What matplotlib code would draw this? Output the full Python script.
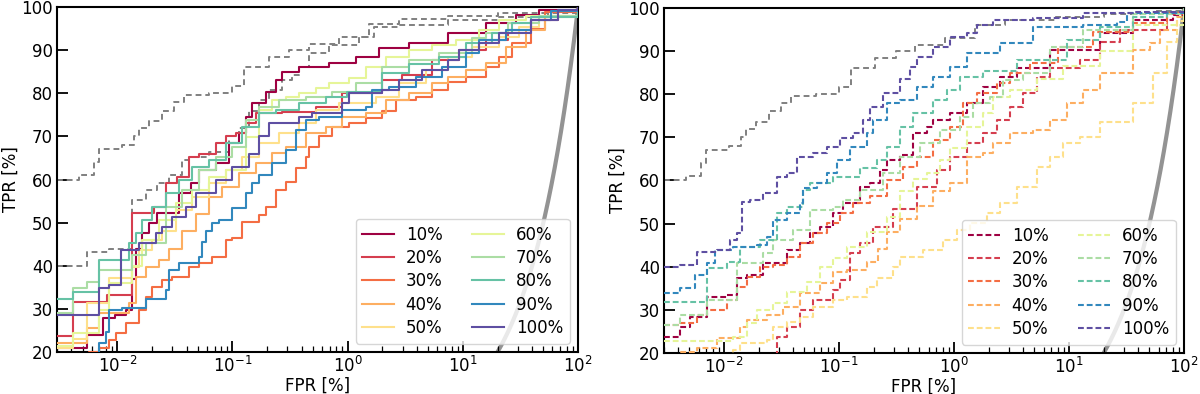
import numpy as np
import matplotlib
matplotlib.use("Agg")
import matplotlib.pyplot as plt

# ---------------- data ----------------
labels = ["10%", "20%", "30%", "40%", "50%", "60%", "70%", "80%", "90%", "100%"]
colors = ['#9e0142', '#d53e4f', '#f46d43', '#fdae61', '#fee08b',
          '#e6f598', '#abdda4', '#66c2a5', '#3288bd', '#5e4fa2']

# grey reference curves
G1_fpr = [0.003, 0.0047, 0.0063, 0.007, 0.011, 0.014, 0.0155, 0.019, 0.0245, 0.031, 0.038, 0.063,
          0.099, 0.126, 0.207, 0.31, 0.46, 0.84, 1.53, 2.8, 7.5, 20, 55, 100]
G1_tpr = [60, 61, 64, 67, 68, 70, 72, 73.5, 76, 78, 79.5, 80,
          81.6, 86, 88.5, 90, 91.5, 93, 96, 97.3, 98, 98.6, 99.3, 100]
G2_fpr = [0.003, 0.0055, 0.0085, 0.0135, 0.0135, 0.0178, 0.0222, 0.0282, 0.0366, 0.042, 0.063,
          0.0935, 0.114, 0.139, 0.17, 0.207, 0.269, 0.328, 0.378, 0.46, 0.69, 1.25, 1.69, 2.8,
          7.5, 20, 55, 100]
G2_tpr = [40, 43.3, 44, 47.8, 55.2, 57.6, 59.2, 61, 64.5, 65.2, 66.4,
          70, 72, 76, 78.4, 80.7, 83, 84.2, 86, 89.3, 91.2, 93, 95.4, 95.8,
          97, 97.6, 98.7, 100]

# left panel (solid)
L10_fpr = [0.003, 0.0055, 0.0075, 0.0095, 0.012, 0.0135, 0.0145, 0.0165, 0.0189, 0.0222, 0.0344,
           0.0437, 0.0513, 0.072, 0.0935, 0.114, 0.131, 0.148, 0.195, 0.239, 0.269, 0.378, 0.687,
           1.18, 1.86, 3.39, 7.5, 15.8, 28.7, 45.4, 100]
L10_tpr = [21, 24, 28, 28.6, 29.7, 37, 44, 47.6, 50, 52.2, 56.8,
           59.2, 62.2, 63.8, 68.4, 70.8, 74.5, 77.7, 80.3, 83, 85, 86, 87,
           88.4, 90.5, 91.6, 94, 96.2, 98.1, 99.3, 100]
L20_fpr = [0.003, 0.0041, 0.0082, 0.0135, 0.021, 0.0266, 0.0331, 0.042, 0.0513, 0.072, 0.088,
           0.107, 0.131, 0.16, 0.269, 0.53, 0.89, 1.98, 2.95, 5.37, 9.2, 15.8, 24.9, 39.4, 67.6, 100]
L20_tpr = [23.8, 31.7, 33.2, 52.2, 53.6, 59.2, 60.6, 65.2, 66, 68.4, 70,
           70.8, 73.1, 75.4, 75.6, 76.8, 80, 83, 84.3, 87.7, 90, 92.3, 94.7, 97.1, 99, 100]
L30_fpr = [0.003, 0.0057, 0.007, 0.0085, 0.0098, 0.012, 0.0155, 0.0178, 0.0201, 0.0245, 0.030,
           0.042, 0.0513, 0.0665, 0.088, 0.0993, 0.121, 0.17, 0.195, 0.239, 0.292, 0.356, 0.434,
           0.46, 0.562, 0.73, 1.02, 1.44, 1.98, 2.62, 3.9, 5.37, 7.5, 10.6, 15.8, 20.4, 26.5,
           39.4, 52, 100]
L30_tpr = [18, 20, 21, 22.8, 24.4, 26.7, 29.7, 32.8, 35.1, 36.7, 37.4,
           39.7, 40.6, 42, 46, 46.4, 50.1, 51.8, 53.6, 57.6, 59.5, 62.6, 65.3,
           67.5, 70, 72.2, 73, 74.2, 76, 78.4, 79.2, 80.8, 82.7, 83.8, 86.1, 88.5, 91.6,
           95, 98.9, 100]
L40_fpr = [0.003, 0.0055, 0.007, 0.0127, 0.0146, 0.0178, 0.0231, 0.0282, 0.0366, 0.0484, 0.063,
           0.081, 0.114, 0.16, 0.22, 0.292, 0.434, 0.647, 0.89, 1.44, 2.14, 3.39, 5.37, 7.5,
           10.6, 15.8, 23.5, 35, 52, 100]
L40_tpr = [22, 25.6, 29, 31.3, 37.4, 39.8, 41.3, 44, 48, 52, 56,
           58.3, 61.5, 63.8, 66.1, 67.6, 70.8, 72.2, 74.5, 75.4, 78.4, 80, 82.3, 83.8,
           85.4, 87, 90.8, 94.7, 98, 100]
L50_fpr = [0.003, 0.0041, 0.0055, 0.0085, 0.0135, 0.0155, 0.0201, 0.0245, 0.0324, 0.0447, 0.063,
           0.088, 0.121, 0.17, 0.253, 0.378, 0.53, 0.84, 1.75, 2.78, 4.76, 7.5, 11.9, 20.4,
           30.5, 45.4, 100]
L50_tpr = [21, 23, 31.3, 37.1, 39.8, 43.7, 46, 48, 52.9, 56, 59.2,
           62.2, 65.2, 68.4, 70.8, 73.1, 76.1, 77.7, 79.2, 82.3, 85.4, 88.4, 90.8, 93.1,
           95.4, 97.7, 100]
L60_fpr = [0.003, 0.0041, 0.007, 0.0085, 0.0135, 0.0165, 0.0231, 0.0324, 0.0447, 0.063, 0.088,
           0.131, 0.17, 0.22, 0.292, 0.378, 0.53, 0.687, 1.02, 1.44, 2.14, 3.39, 5.37, 8.67,
           13.7, 20.4, 35, 100]
L60_tpr = [21.5, 24.4, 29.7, 36, 40, 46, 50.6, 54.5, 57.6, 60.6, 62.2,
           69.9, 76.1, 78.4, 79.1, 80, 81.2, 82.4, 83.5, 86.1, 88.4, 90, 91.2, 92.3,
           94.7, 96.9, 98, 100]
L70_fpr = [0.003, 0.0041, 0.0055, 0.007, 0.0135, 0.0178, 0.0266, 0.0366, 0.0513, 0.072, 0.0993,
           0.131, 0.17, 0.253, 0.434, 0.73, 1.18, 1.98, 3.39, 6.2, 11.9, 15.8, 24.9, 45.4, 100]
L70_tpr = [29, 34.8, 36.2, 39, 42.5, 45.3, 53.6, 57.6, 62.2, 65.2, 67.6,
           73.8, 76.8, 78.4, 79.1, 80.3, 82.3, 86.1, 87.7, 89.3, 92.8, 93.9, 96.2, 98, 100]
L80_fpr = [0.003, 0.0041, 0.007, 0.0127, 0.0146, 0.0165, 0.0201, 0.0266, 0.0344, 0.0447, 0.063,
           0.088, 0.121, 0.17, 0.239, 0.378, 0.647, 0.98, 1.98, 3.39, 6.2, 10.6, 17.8, 26.5,
           39.4, 100]
L80_tpr = [32.3, 33.9, 41.3, 45.3, 47.6, 50.6, 53.6, 56.8, 59.9, 62.9, 64.5,
           68.4, 72.2, 75.4, 76.1, 77.7, 79.1, 80.3, 84.6, 86.9, 88.4, 91.6, 93.9, 96.2,
           97.7, 100]
L90_fpr = [0.003, 0.007, 0.008, 0.0085, 0.011, 0.0178, 0.0266, 0.0282, 0.0344, 0.0513, 0.0546,
           0.059, 0.0665, 0.0766, 0.0993, 0.131, 0.148, 0.17, 0.22, 0.292, 0.356, 0.434, 0.562,
           0.89, 1.44, 1.62, 2.28, 3.9, 6.55, 10.6, 13.7, 23.5, 39.4, 58.6, 100]
L90_tpr = [15, 22, 24.6, 29.7, 30.1, 32.4, 34.4, 39, 40.6, 42, 45.6,
           48, 50, 50.6, 53.4, 56.8, 59.2, 61, 63.8, 66.8, 71.5, 73.8, 74.5,
           76.1, 76.8, 80.8, 81.5, 83.8, 86.1, 89.3, 92.3, 94.7, 97, 99, 100]
L100_fpr = [0.003, 0.007, 0.0085, 0.0108, 0.0155, 0.0218, 0.0245, 0.030, 0.0396, 0.0484, 0.072,
            0.0993, 0.139, 0.17, 0.207, 0.378, 0.49, 0.89, 1.02, 1.98, 2.78, 4.4, 7.5, 9.2,
            13.7, 20.4, 39.4, 67.6, 100]
L100_tpr = [28.6, 34.8, 35.5, 43.7, 45.3, 47.6, 49, 51.4, 53.7, 56.8, 59.9,
            63, 66, 70, 73, 74.5, 75.4, 77.7, 80, 80.8, 83.1, 85.4, 87.7, 90,
            91.6, 93.9, 97, 99.3, 100]

# right panel (dashed)
R10_fpr = [0.003, 0.00414, 0.00506, 0.0071, 0.0106, 0.013, 0.0159, 0.0218, 0.0353, 0.0458, 0.056,
           0.0684, 0.0887, 0.108, 0.152, 0.186, 0.227, 0.261, 0.339, 0.44, 0.582, 0.656, 0.923,
           1.30, 1.79, 2.51, 3.53, 6.84, 18.6, 36, 80, 100]
R10_tpr = [23.7, 26.1, 28.4, 33, 33.4, 37.4, 38.1, 40.8, 43.9, 45.5, 47.8,
           49.2, 52.4, 54.7, 58.5, 59.4, 62.4, 64.7, 66, 71, 72.4, 74, 75.6,
           77.9, 81.7, 84, 86, 90.3, 94.2, 97.2, 98.4, 100]
R20_fpr = [0.003, 0.0267, 0.0289, 0.0353, 0.0458, 0.0594, 0.0887, 0.102, 0.125, 0.152, 0.198,
           0.295, 0.476, 0.712, 0.923, 1.30, 1.79, 2.37, 3.07, 3.98, 5.27, 6.84, 12.5, 18.6,
           27.7, 71, 100]
R20_tpr = [15, 19, 23.7, 26.1, 30, 32.3, 34.6, 37, 43.1, 45.5, 49.2,
           53.5, 58.5, 62.4, 65.5, 68.7, 71, 74, 77.1, 80.2, 84, 86, 88, 92,
           95, 98.5, 100]
R30_fpr = [0.003, 0.00414, 0.00582, 0.0071, 0.0106, 0.013, 0.0159, 0.0206, 0.0267, 0.0353, 0.0458,
           0.0594, 0.0787, 0.102, 0.132, 0.186, 0.261, 0.36, 0.476, 0.656, 0.923, 1.2, 1.58,
           2.37, 3.07, 4.58, 8.0, 16.2, 36, 71, 100]
R30_tpr = [26.5, 27, 28.8, 30, 32.3, 35.4, 37.6, 40, 40.4, 42.3, 45.5,
           47.8, 50.1, 52.4, 54.7, 56.5, 60, 63.1, 65.5, 69.4, 72.4, 77.9, 80.2,
           82.6, 84.9, 87.2, 91, 94.5, 96.5, 98.8, 100]
R40_fpr = [0.003, 0.00414, 0.00582, 0.0087, 0.0138, 0.0159, 0.0237, 0.0326, 0.0458, 0.0684, 0.0887,
           0.117, 0.175, 0.22, 0.261, 0.339, 0.476, 0.656, 0.923, 1.30, 1.79, 2.18, 3.07, 4.86,
           6.84, 9.6, 13.2, 18.6, 36, 50.6, 61.8, 86.9, 100]
R40_tpr = [18, 20.2, 21.2, 23.5, 26.1, 27.7, 28.8, 30.7, 33.9, 36.2, 38.8,
           39.2, 41, 44, 48, 51, 54, 57.5, 59.5, 65.5, 66.3, 68.7, 71, 71.7,
           74, 77.9, 81, 85, 90.3, 91.9, 94.9, 97.9, 100]
R50_fpr = [0.003, 0.012, 0.0138, 0.0237, 0.0267, 0.0353, 0.0458, 0.0594, 0.0887, 0.117, 0.175,
           0.214, 0.295, 0.339, 0.537, 0.80, 1.06, 1.38, 1.94, 2.51, 3.53, 5.27, 6.84, 8.87,
           12.5, 18.6, 36, 53.7, 71, 86.9, 100]
R50_tpr = [18, 20.7, 22.3, 23, 26, 27.2, 28.4, 30.7, 32.3, 33, 35.4,
           37.4, 40, 42.3, 43.9, 46.2, 48.5, 50.1, 52.4, 54.7, 58.5, 63.1, 65.5, 68.7,
           70, 73.5, 78, 85, 92, 97, 100]
R60_fpr = [0.003, 0.012, 0.0159, 0.0194, 0.0267, 0.0353, 0.0527, 0.0684, 0.0887, 0.117, 0.175,
           0.261, 0.339, 0.44, 0.582, 0.755, 0.923, 1.30, 1.79, 2.18, 3.07, 5.27, 8.87, 18.6,
           36, 100]
R60_tpr = [22.8, 23.7, 27, 30, 31.6, 34.2, 36.5, 40, 42, 44.5, 48,
           51.5, 57.5, 60.3, 61.7, 64.7, 67.5, 72.4, 75.6, 79.4, 81, 83.5, 86.5, 90,
           96, 100]
R70_fpr = [0.003, 0.00414, 0.0071, 0.013, 0.0218, 0.0267, 0.0398, 0.056, 0.0887, 0.108, 0.152,
           0.241, 0.339, 0.506, 0.755, 1.13, 1.46, 2.06, 2.67, 3.98, 6.84, 13.2, 36, 100]
R70_tpr = [26.5, 28.8, 32.3, 40.8, 43.1, 46.2, 48.5, 53.2, 53.9, 55.5, 57.8,
           61.7, 65.5, 68.7, 71.7, 74.7, 77.9, 79.4, 83.3, 84.9, 91, 95, 98.5, 100]
R80_fpr = [0.003, 0.0071, 0.0106, 0.0138, 0.0206, 0.0289, 0.0353, 0.0487, 0.056, 0.0887, 0.152,
           0.214, 0.261, 0.339, 0.44, 0.656, 0.868, 1.13, 1.79, 3.53, 9.6, 18.6, 36, 71, 100]
R80_tpr = [31.8, 39.7, 41.1, 44.6, 46.2, 52.4, 53.9, 57.8, 59.4, 60.9, 62.9,
           64.7, 67.8, 72.4, 75.6, 78.7, 81, 84, 85.4, 87.9, 92.6, 95.6, 97.9, 99.1, 100]
R90_fpr = [0.003, 0.00414, 0.0056, 0.0071, 0.00835, 0.012, 0.0194, 0.0237, 0.0267, 0.0353, 0.0458,
           0.0487, 0.0644, 0.0787, 0.0961, 0.125, 0.175, 0.198, 0.261, 0.339, 0.476, 0.656,
           0.923, 1.30, 2.51, 4.86, 13.2, 26.1, 31.9, 100]
R90_tpr = [33.9, 35, 38.1, 40.8, 43.9, 44.6, 45, 47, 50.8, 52.4, 54.7,
           58.3, 59.4, 61.7, 64.7, 67.8, 71, 74, 77.9, 78.7, 81.7, 84,
           86.3, 89.5, 91.9, 95.6, 96.1, 96.8, 98.8, 100]
R100_fpr = [0.003, 0.00414, 0.00582, 0.0087, 0.0113, 0.013, 0.0144, 0.0168, 0.0218, 0.0289, 0.0353,
            0.0432, 0.0594, 0.0787, 0.102, 0.132, 0.162, 0.186, 0.241, 0.339, 0.414, 0.476,
            0.656, 0.923, 1.30, 1.58, 2.18, 4.86, 13.2, 36, 100]
R100_tpr = [40, 40.4, 43.4, 43.9, 46.2, 47.8, 55, 55.5, 57.1, 60.8, 61.7,
            65.5, 66.4, 67.8, 69.9, 71, 74, 77, 80.2, 83.5, 86.4, 88.7,
            91, 93.3, 94.2, 96.1, 97.2, 97.7, 98.8, 99.1, 100]

# random classifier (TPR = FPR)
rand_fpr = [20, 30, 40, 50, 60, 70, 80, 90, 100]
rand_tpr = [20, 30, 40, 50, 60, 70, 80, 90, 100]

left_curves = [(L10_fpr, L10_tpr), (L20_fpr, L20_tpr), (L30_fpr, L30_tpr), (L40_fpr, L40_tpr),
               (L50_fpr, L50_tpr), (L60_fpr, L60_tpr), (L70_fpr, L70_tpr), (L80_fpr, L80_tpr),
               (L90_fpr, L90_tpr), (L100_fpr, L100_tpr)]
right_curves = [(R10_fpr, R10_tpr), (R20_fpr, R20_tpr), (R30_fpr, R30_tpr), (R40_fpr, R40_tpr),
                (R50_fpr, R50_tpr), (R60_fpr, R60_tpr), (R70_fpr, R70_tpr), (R80_fpr, R80_tpr),
                (R90_fpr, R90_tpr), (R100_fpr, R100_tpr)]

# ---------------- plot ----------------
plt.rcParams['font.family'] = ['DejaVu Sans']
fig = plt.figure(figsize=(12, 3.94), dpi=100)
axL = fig.add_axes([0.0475, 0.1066, 0.4342, 0.8756])
axR = fig.add_axes([0.5533, 0.1041, 0.4334, 0.8756])

rand_x = np.logspace(np.log10(20), 2, 200)
rand_y = np.interp(rand_x, rand_fpr, rand_tpr)

FS = 12

def style(ax):
    ax.set_xscale('log')
    ax.set_xlim(0.003, 100)
    ax.set_ylim(20, 100)
    ax.set_yticks([20, 30, 40, 50, 60, 70, 80, 90, 100])
    ax.set_xticks([1e-2, 1e-1, 1e0, 1e1, 1e2])
    ax.tick_params(axis='both', which='major', direction='in', length=8, width=1.3,
                   labelsize=FS, top=False, right=False, pad=3)
    ax.tick_params(axis='x', which='minor', direction='in', length=4, width=0.9, top=False)
    for s in ax.spines.values():
        s.set_linewidth(1.5)
    ax.set_xlabel('FPR [%]', fontsize=FS, labelpad=0)
    ax.set_ylabel('TPR [%]', fontsize=FS, labelpad=1)

for ax, curves, dashed, greys in [(axL, left_curves, False, [(G1_fpr, G1_tpr), (G2_fpr, G2_tpr)]),
                                  (axR, right_curves, True, [(G1_fpr, G1_tpr)])]:
    ax.plot(rand_x, rand_y, color='grey', lw=3, alpha=0.85, zorder=1)
    for gf, gt in greys:
        ax.step(gf, gt, where='post', color='grey', ls='--', dashes=(3, 2), lw=1.4, zorder=2)
    for (f, t), c, lab in zip(curves, colors, labels):
        if dashed:
            ax.step(f, t, where='post', color=c, ls='--', dashes=(2.8, 1.4), lw=1.5,
                    label=lab, zorder=3)
        else:
            ax.step(f, t, where='post', color=c, lw=1.5, label=lab, zorder=3)
    style(ax)
    ax.legend(loc='lower right', ncol=2, fontsize=FS, labelspacing=0.32,
              handlelength=1.9, handletextpad=0.7, columnspacing=1.8, borderpad=0.4)

fig.savefig('out.png', dpi=100)
